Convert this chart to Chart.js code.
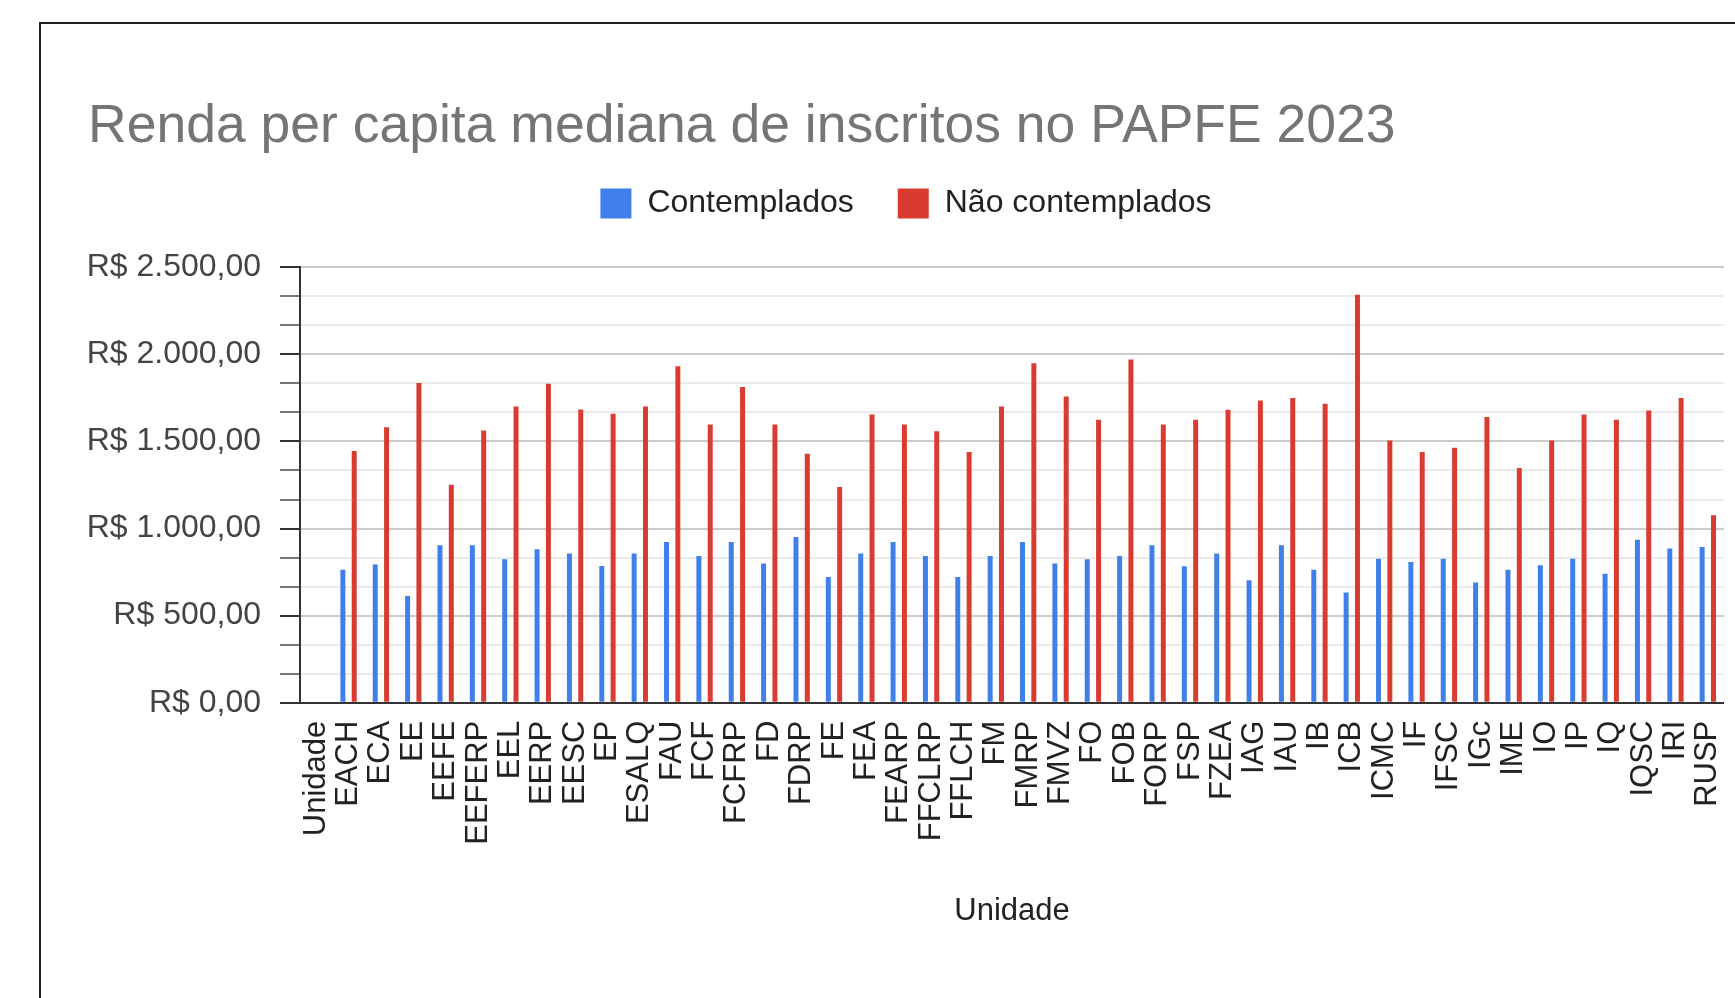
<!DOCTYPE html>
<html>
<head>
<meta charset="utf-8">
<title>Renda per capita mediana de inscritos no PAPFE 2023</title>
<script src="https://cdn.jsdelivr.net/npm/chart.js@4.4.1/dist/chart.umd.min.js"></script>
<style>
  html, body { margin: 0; padding: 0; background: #fff; overflow: hidden; width: 1735px; height: 998px; }
  #frame { position: absolute; left: 39px; top: 22px; width: 1735px; height: 1000px; border: 2px solid #222; }
  canvas { display: block; }
</style>
</head>
<body>
<div id="frame"><canvas id="chart"></canvas></div>
<script>
// Unidades (the first one is the header row that ended up in the chart)
var unidades = ['Unidade', 'EACH', 'ECA', 'EE', 'EEFE', 'EEFERP', 'EEL', 'EERP', 'EESC', 'EP', 'ESALQ',
    'FAU', 'FCF', 'FCFRP', 'FD', 'FDRP', 'FE', 'FEA', 'FEARP', 'FFCLRP', 'FFLCH',
    'FM', 'FMRP', 'FMVZ', 'FO', 'FOB', 'FORP', 'FSP', 'FZEA', 'IAG', 'IAU',
    'IB', 'ICB', 'ICMC', 'IF', 'IFSC', 'IGc', 'IME', 'IO', 'IP', 'IQ',
    'IQSC', 'IRI', 'RUSP'];

// Renda per capita mediana (R$)
var contemplados = [null, 764, 793, 612, 904, 904, 824, 881, 856, 785, 856,
    923, 843, 923, 799, 952, 722, 856, 923, 843, 722,
    843, 923, 799, 824, 843, 904, 784, 856, 703, 904,
    764, 633, 827, 808, 827, 690, 764, 789, 827, 741,
    936, 885, 894];

var naoContemplados = [null, 1445, 1582, 1836, 1252, 1563, 1701, 1831, 1684, 1659, 1701,
    1932, 1598, 1812, 1598, 1429, 1238, 1655, 1598, 1559, 1439,
    1701, 1949, 1758, 1624, 1970, 1598, 1624, 1682, 1735, 1750,
    1716, 2343, 1506, 1439, 1464, 1640, 1347, 1506, 1655, 1624,
    1678, 1750, 1076];

// Labelled y ticks (minor gridlines sit in between, every third of a step)
var yMarcas = [0, 500, 1000, 1500, 2000, 2500];
var yDivisoes = 3;

Chart.defaults.font.family = '"Liberation Sans", Arial, sans-serif';

// true when a tick value is one of the labelled ones
function isMarca(v) {
    return yMarcas.some(function (m) { return Math.abs(v - m) < 1e-6; });
}

// 2500 -> "R$ 2.500,00"
function formatReal(v) {
    var s = Math.round(v).toString().replace(/\B(?=(\d{3})+(?!\d))/g, '.');
    return 'R$ ' + s + ',00';
}

var ctx = document.getElementById('chart').getContext('2d');
var chart = new Chart(ctx, {
    type: 'bar',
    data: {
        labels: unidades,
        datasets: [{
            label: 'Contemplados',
            data: contemplados,
            backgroundColor: '#3f7fea',
            categoryPercentage: 0.7,
            barPercentage: 0.44
        }, {
            label: 'Não contemplados',
            data: naoContemplados,
            backgroundColor: '#d93b31',
            categoryPercentage: 0.7,
            barPercentage: 0.44
        }]
    },
    options: {
        responsive: true,
        maintainAspectRatio: false,
        animation: false,
        layout: {
            padding: { left: 47, right: 52, top: 0, bottom: 90.4 }
        },
        plugins: {
            title: {
                display: true,
                text: 'Renda per capita mediana de inscritos no PAPFE 2023',
                align: 'start',
                color: '#757575',
                font: { size: 53.5, weight: 'normal', lineHeight: 0.6 },
                padding: { top: 87, bottom: 0.5 }
            },
            legend: {
                position: 'top',
                labels: {
                    boxWidth: 31,
                    boxHeight: 30,
                    padding: 44,
                    color: '#222',
                    font: { size: 32 }
                }
            },
            tooltip: { enabled: false }
        },
        scales: {
            x: {
                grid: { display: false, drawTicks: false },
                border: { display: false },
                ticks: {
                    autoSkip: false,
                    maxRotation: 90,
                    minRotation: 90,
                    padding: 18,
                    color: '#222',
                    font: { size: 31 }
                },
                title: {
                    display: true,
                    text: 'Unidade',
                    color: '#222',
                    font: { size: 31 },
                    padding: { top: 0, bottom: 4 }
                },
                afterFit: function (scale) { scale.height = 230.9; }
            },
            // empty axis on top, only keeps the gap between legend and plot
            xEspaco: {
                position: 'top',
                grid: { display: false, drawTicks: false },
                border: { display: false },
                ticks: { display: false },
                afterFit: function (scale) { scale.height = 37.7; }
            },
            y: {
                min: 0,
                max: 2500,
                afterBuildTicks: function (scale) {
                    var ticks = [];
                    for (var i = 0; i < yMarcas.length; i++) {
                        ticks.push({ value: yMarcas[i] });
                        if (i < yMarcas.length - 1) {
                            var passo = (yMarcas[i + 1] - yMarcas[i]) / yDivisoes;
                            for (var j = 1; j < yDivisoes; j++) ticks.push({ value: yMarcas[i] + j * passo });
                        }
                    }
                    scale.ticks = ticks;
                },
                grid: {
                    lineWidth: 2,
                    tickLength: 20,
                    tickWidth: 2,
                    color: function (c) {
                        var v = c.tick ? c.tick.value : 0;
                        if (Math.abs(v) < 1e-6) return '#333';
                        return isMarca(v) ? '#cccccc' : '#ebebeb';
                    },
                    tickColor: function (c) {
                        var v = c.tick ? c.tick.value : 0;
                        return isMarca(v) ? '#333' : '#777';
                    }
                },
                border: { display: true, color: '#333', width: 2 },
                ticks: {
                    autoSkip: false,
                    padding: 19,
                    color: '#444',
                    font: { size: 32 },
                    callback: function (v) { return isMarca(v) ? formatReal(v) : ''; }
                },
                afterFit: function (scale) { scale.width = 212; }
            }
        }
    }
});
</script>
</body>
</html>
